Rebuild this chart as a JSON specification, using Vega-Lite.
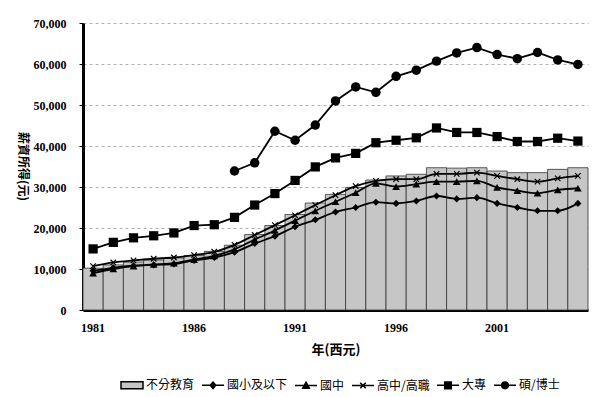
{
  "$schema": "https://vega.github.io/schema/vega-lite/v6.json",
  "width": 505,
  "height": 287,
  "autosize": "none",
  "padding": {"left": 83, "top": 23, "right": 12, "bottom": 87},
  "background": "white",
  "config": {"view": {"stroke": null}},
  "data": {
    "values": [
      {"year": 1981, "不分教育": 10200, "國小及以下": 9600, "國中": 9000, "高中/高職": 10700, "大專": 14900},
      {"year": 1982, "不分教育": 11000, "國小及以下": 10300, "國中": 10000, "高中/高職": 11600, "大專": 16500},
      {"year": 1983, "不分教育": 11700, "國小及以下": 10800, "國中": 10700, "高中/高職": 12100, "大專": 17600},
      {"year": 1984, "不分教育": 12200, "國小及以下": 11000, "國中": 11100, "高中/高職": 12500, "大專": 18100},
      {"year": 1985, "不分教育": 12700, "國小及以下": 11200, "國中": 11400, "高中/高職": 12800, "大專": 18800},
      {"year": 1986, "不分教育": 13300, "國小及以下": 12100, "國中": 12300, "高中/高職": 13400, "大專": 20600},
      {"year": 1987, "不分教育": 14300, "國小及以下": 12800, "國中": 13200, "高中/高職": 14200, "大專": 20800},
      {"year": 1988, "不分教育": 15800, "國小及以下": 14100, "國中": 14800, "高中/高職": 15900, "大專": 22600, "碩/博士": 33900},
      {"year": 1989, "不分教育": 18400, "國小及以下": 16200, "國中": 17200, "高中/高職": 18300, "大專": 25600, "碩/博士": 35900},
      {"year": 1990, "不分教育": 20600, "國小及以下": 18000, "國中": 19400, "高中/高職": 20700, "大專": 28400, "碩/博士": 43600},
      {"year": 1991, "不分教育": 23300, "國小及以下": 20300, "國中": 21800, "高中/高職": 23100, "大專": 31600, "碩/博士": 41400},
      {"year": 1992, "不分教育": 26100, "國小及以下": 22000, "國中": 24200, "高中/高職": 25600, "大專": 34900, "碩/博士": 45100},
      {"year": 1993, "不分教育": 28200, "國小及以下": 23900, "國中": 26400, "高中/高職": 28000, "大專": 37100, "碩/博士": 51000},
      {"year": 1994, "不分教育": 29900, "國小及以下": 25000, "國中": 28600, "高中/高職": 30200, "大專": 38200, "碩/博士": 54400},
      {"year": 1995, "不分教育": 31700, "國小及以下": 26300, "國中": 30900, "高中/高職": 31500, "大專": 40800, "碩/博士": 53100},
      {"year": 1996, "不分教育": 32700, "國小及以下": 26000, "國中": 30100, "高中/高職": 31900, "大專": 41400, "碩/博士": 57000},
      {"year": 1997, "不分教育": 33100, "國小及以下": 26600, "國中": 30700, "高中/高職": 31900, "大專": 42000, "碩/博士": 58500},
      {"year": 1998, "不分教育": 34700, "國小及以下": 27800, "國中": 31300, "高中/高職": 33200, "大專": 44400, "碩/博士": 60700},
      {"year": 1999, "不分教育": 34600, "國小及以下": 27100, "國中": 31300, "高中/高職": 33200, "大專": 43300, "碩/博士": 62700},
      {"year": 2000, "不分教育": 34700, "國小及以下": 27400, "國中": 31500, "高中/高職": 33500, "大專": 43300, "碩/博士": 64000},
      {"year": 2001, "不分教育": 33900, "國小及以下": 26000, "國中": 29900, "高中/高職": 32700, "大專": 42300, "碩/博士": 62300},
      {"year": 2002, "不分教育": 33500, "國小及以下": 25000, "國中": 29100, "高中/高職": 31900, "大專": 41100, "碩/博士": 61300},
      {"year": 2003, "不分教育": 33500, "國小及以下": 24200, "國中": 28500, "高中/高職": 31300, "大專": 41100, "碩/博士": 62800},
      {"year": 2004, "不分教育": 34300, "國小及以下": 24200, "國中": 29300, "高中/高職": 32100, "大專": 41900, "碩/博士": 61000},
      {"year": 2005, "不分教育": 34700, "國小及以下": 26000, "國中": 29700, "高中/高職": 32700, "大專": 41200, "碩/博士": 59900}
    ]
  },
  "transform": [
    {"fold": ["不分教育", "國小及以下", "國中", "高中/高職", "大專", "碩/博士"], "as": ["series", "value"]},
    {"filter": "datum.value != null"}
  ],
  "encoding": {
    "x": {
      "field": "year",
      "type": "ordinal",
      "scale": {"paddingInner": 0, "paddingOuter": 0},
      "axis": {
        "title": "年(西元)",
        "labelExpr": "(datum.value - 1981) % 5 == 0 ? datum.label : ''",
        "labelAngle": 0,
        "labelFont": "Liberation Serif",
        "labelFontWeight": "bold",
        "labelFontSize": 12,
        "labelColor": "black",
        "ticks": false,
        "labelPadding": 12,
        "domainColor": "black",
        "domainWidth": 3,
        "grid": false,
        "titleFont": "Noto Sans CJK TC",
        "titleFontSize": 13,
        "titleFontWeight": "bold",
        "titleColor": "black",
        "titlePadding": 10
      }
    },
    "y": {
      "field": "value",
      "type": "quantitative",
      "scale": {"domain": [0, 70000]},
      "axis": {
        "title": "薪資所得(元)",
        "values": [0, 10000, 20000, 30000, 40000, 50000, 60000, 70000],
        "format": ",.0f",
        "labelFont": "Liberation Serif",
        "labelFontWeight": "bold",
        "labelFontSize": 12,
        "labelColor": "black",
        "tickSize": 4,
        "tickColor": "black",
        "labelPadding": 13,
        "domainColor": "black",
        "domainWidth": 3,
        "grid": true,
        "gridDash": [3, 3],
        "gridColor": "#b0b0b0",
        "titleAngle": 90,
        "titleX": -61,
        "titleY": 143,
        "titleAlign": "center",
        "titleBaseline": "middle",
        "titleFont": "Noto Sans CJK TC",
        "titleFontSize": 12,
        "titleFontWeight": "bold",
        "titleColor": "black"
      }
    }
  },
  "layer": [
    {
      "transform": [{"filter": "datum.series == '不分教育'"}],
      "mark": {"type": "bar", "fill": "#c6c6c6", "stroke": "#333333", "strokeWidth": 0.8}
    },
    {
      "transform": [{"filter": "indexof(['國小及以下','國中','高中/高職'], datum.series) >= 0"}],
      "mark": {"type": "line", "color": "black", "strokeWidth": 1.8, "interpolate": "monotone"},
      "encoding": {"detail": {"field": "series"}}
    },
    {
      "transform": [{"filter": "indexof(['大專','碩/博士'], datum.series) >= 0"}],
      "mark": {"type": "line", "color": "black", "strokeWidth": 1.8},
      "encoding": {"detail": {"field": "series"}}
    },
    {
      "transform": [{"filter": "datum.series == '國小及以下'"}],
      "mark": {"type": "point", "shape": "diamond", "filled": true, "color": "black", "opacity": 1, "size": 50}
    },
    {
      "transform": [{"filter": "datum.series == '國中'"}],
      "mark": {"type": "point", "shape": "triangle-up", "filled": true, "color": "black", "opacity": 1, "size": 60}
    },
    {
      "transform": [{"filter": "datum.series == '高中/高職'"}],
      "mark": {"type": "point", "shape": "M-1,-1L1,1M-1,1L1,-1", "filled": false, "color": "black", "strokeWidth": 1.2, "opacity": 1, "size": 30}
    },
    {
      "transform": [{"filter": "datum.series == '大專'"}],
      "mark": {"type": "point", "shape": "square", "filled": true, "color": "black", "opacity": 1, "size": 85}
    },
    {
      "transform": [{"filter": "datum.series == '碩/博士'"}],
      "mark": {"type": "point", "shape": "circle", "filled": true, "color": "black", "opacity": 1, "size": 90}
    },
    {
      "transform": [{"filter": "false"}],
      "mark": {"type": "point", "filled": true, "opacity": 1},
      "encoding": {
        "shape": {
          "field": "series",
          "type": "nominal",
          "scale": {
            "domain": ["不分教育", "國小及以下", "國中", "高中/高職", "大專", "碩/博士"],
            "range": [
              "M-1,-0.32H1V0.32H-1Z",
              "M-1,0L1,0M0,-0.3L0.25,0L0,0.3L-0.25,0Z",
              "M-1,0L1,0M0,-0.3L0.3,0.24L-0.3,0.24Z",
              "M-1,0L1,0M-0.25,-0.25L0.25,0.25M-0.25,0.25L0.25,-0.25",
              "M-1,0L1,0M-0.3,-0.3H0.3V0.3H-0.3Z",
              "M-1,0L1,0M-0.3,0A0.3,0.3 0 1,0 0.3,0A0.3,0.3 0 1,0 -0.3,0Z"
            ]
          },
          "legend": {
            "orient": "none",
            "legendX": 37,
            "legendY": 350,
            "direction": "horizontal",
            "title": null,
            "symbolSize": 484,
            "symbolStrokeColor": "black",
            "symbolStrokeWidth": 1.5,
            "labelFont": "Noto Sans CJK TC",
            "labelFontSize": 12,
            "labelColor": "black",
            "columnPadding": 4,
            "labelOffset": 2,
            "encode": {"symbols": {"update": {"stroke": {"value": "black"}, "strokeWidth": {"value": 1.5}, "opacity": {"value": 1}}}}
          }
        },
        "color": {
          "field": "series",
          "type": "nominal",
          "scale": {
            "domain": ["不分教育", "國小及以下", "國中", "高中/高職", "大專", "碩/博士"],
            "range": ["#c6c6c6", "black", "black", "black", "black", "black"]
          },
          "legend": {
            "orient": "none",
            "legendX": 37,
            "legendY": 350,
            "direction": "horizontal",
            "title": null,
            "symbolSize": 484,
            "symbolStrokeColor": "black",
            "symbolStrokeWidth": 1.5,
            "labelFont": "Noto Sans CJK TC",
            "labelFontSize": 12,
            "labelColor": "black",
            "columnPadding": 4,
            "labelOffset": 2,
            "encode": {"symbols": {"update": {"stroke": {"value": "black"}, "strokeWidth": {"value": 1.5}, "opacity": {"value": 1}}}}
          }
        }
      }
    }
  ]
}
